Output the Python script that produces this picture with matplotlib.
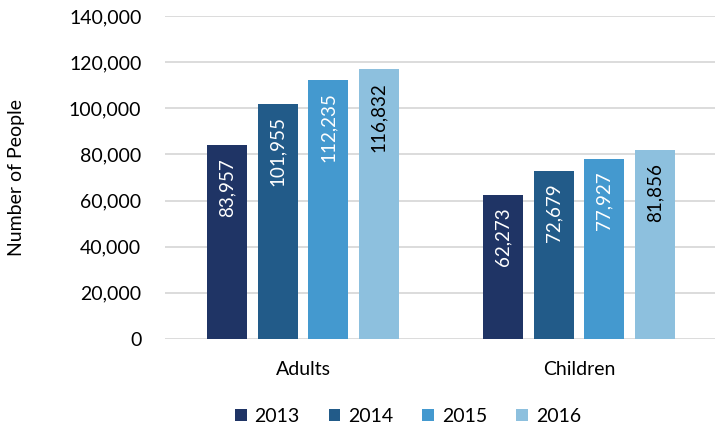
import matplotlib.pyplot as plt
import numpy as np

plt.rcParams['font.family'] = ['Lato', 'DejaVu Sans']

# data
categories = ['Adults', 'Children']
years = ['2013', '2014', '2015', '2016']
values = {
    '2013': [83957, 62273],
    '2014': [101955, 72679],
    '2015': [112235, 77927],
    '2016': [116832, 81856],
}
colors = ['#1f3465', '#225b89', '#4499cf', '#8dc0de']
label_colors = ['white', 'white', 'white', 'black']

fig = plt.figure(figsize=(7.15, 4.29), dpi=100)
ax = fig.add_axes([165/715, 1-339/429, 552/715, 323/429])

x = np.arange(len(categories))
width = 0.145
step = 0.183

for i, yr in enumerate(years):
    pos = x + (i - 1.5)*step
    bars = ax.bar(pos, values[yr], width, color=colors[i], label=yr, zorder=3)
    for b, v in zip(bars, values[yr]):
        ax.annotate(f'{v:,}', (b.get_x() + b.get_width()/2, v),
                    xytext=(0, -9), textcoords='offset points',
                    rotation=90, ha='center', va='top',
                    color=label_colors[i], fontsize=13.5, zorder=4)

ax.set_xlim(-0.5, 1.5)
ax.set_ylim(0, 140000)
ax.set_yticks(np.arange(0, 140001, 20000))
ax.set_yticklabels([f'{t:,}' for t in range(0, 140001, 20000)], fontsize=14)
ax.set_xticks(x)
ax.set_xticklabels(categories, fontsize=14)
ax.tick_params(axis='x', length=0, pad=16)
ax.tick_params(axis='y', length=0, pad=17)
ax.grid(axis='y', color='#d9d9d9', lw=1.3, zorder=0)
for s in ax.spines.values():
    s.set_visible(False)
ax.set_ylabel('Number of People', fontsize=14)
ax.yaxis.set_label_coords(-140/552, 0.5)

ax.legend(loc='upper center', bbox_to_anchor=(0.44, -0.16), ncol=4, frameon=False,
          fontsize=14, handlelength=0.6, handleheight=0.6, handletextpad=0.4,
          columnspacing=1.5)

fig.savefig('out.png', dpi=100)
